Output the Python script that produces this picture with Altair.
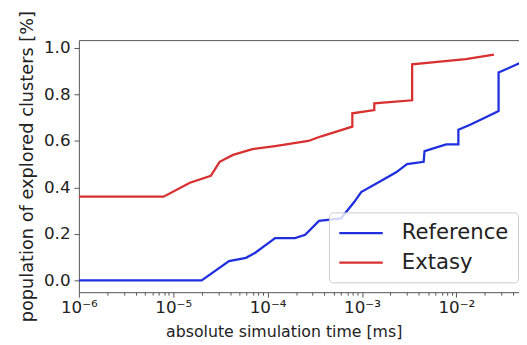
import altair as alt
import pandas as pd

# Reference series (step-like cumulative curve)
ref_x = [1e-6, 2e-5, 3.9e-5, 5.9e-5, 7.4e-5, 1.2e-4, 1.95e-4, 2.5e-4, 3.5e-4, 6.0e-4,
         8.3e-4, 9.8e-4, 1.6e-3, 2.3e-3, 3.0e-3, 4.5e-3, 4.6e-3, 7.8e-3, 1.05e-2, 1.05e-2,
         1.4e-2, 2.0e-2, 2.8e-2, 2.8e-2, 3.6e-2, 4.4e-2, 5.0e-2]
ref_y = [0.0, 0.0, 0.083, 0.097, 0.119, 0.182, 0.182, 0.196, 0.256, 0.267,
         0.338, 0.38, 0.429, 0.465, 0.50, 0.51, 0.556, 0.585, 0.585, 0.648,
         0.67, 0.70, 0.729, 0.895, 0.914, 0.93, 0.94]

# Extasy series
ext_x = [1e-6, 7.9e-6, 1.5e-5, 2.5e-5, 3.1e-5, 4.3e-5, 6.9e-5, 1.2e-4, 2.7e-4, 3.7e-4,
         7.9e-4, 7.9e-4, 1.35e-3, 1.35e-3, 3.4e-3, 3.4e-3, 6.3e-3, 1.26e-2, 2.5e-2]
ext_y = [0.36, 0.36, 0.42, 0.45, 0.51, 0.54, 0.565, 0.578, 0.60, 0.62,
         0.662, 0.719, 0.733, 0.762, 0.775, 0.93, 0.94, 0.952, 0.972]

series_names = ["Reference", "Extasy"]
series_colors = ["#1f2fe0", "#d83030"]

major_ticks = [1e-6, 1e-5, 1e-4, 1e-3, 1e-2]
minor_ticks = [m * 10 ** e for e in range(-6, -1) for m in range(2, 10) if m * 10 ** e < 0.046]
y_ticks = [0.0, 0.2, 0.4, 0.6, 0.8, 1.0]

rows = []
for i, (x, y) in enumerate(zip(ref_x, ref_y)):
    rows.append({"x": x, "y": y, "series": "Reference", "i": i})
for i, (x, y) in enumerate(zip(ext_x, ext_y)):
    rows.append({"x": x, "y": y, "series": "Extasy", "i": i})
df = pd.DataFrame(rows)

FONT = "DejaVu Sans"
xscale = alt.Scale(type="log", domain=[1e-6, 0.0461], nice=False)
yscale = alt.Scale(domain=[-0.051, 1.034], nice=False, zero=False)

label_expr = ("datum.value < 5e-6 ? '10⁻⁶' : datum.value < 5e-5 ? '10⁻⁵' : "
              "datum.value < 5e-4 ? '10⁻⁴' : datum.value < 5e-3 ? '10⁻³' : '10⁻²'")

lines = alt.Chart(df).mark_line(strokeWidth=2.3, clip=True).encode(
    x=alt.X("x:Q", scale=xscale,
            axis=alt.Axis(orient="bottom", values=major_ticks, labelExpr=label_expr,
                          title="absolute simulation time [ms]", grid=False,
                          tickSize=5, labelPadding=3, labelFontSize=17,
                          titleFontSize=16, titleFontWeight="normal",
                          titleX=208, titleAlign="center", titleAnchor="start",
                          titlePadding=8, domainColor="#555", tickColor="#555",
                          labelColor="#222", titleColor="#222", labelFlush=False)),
    y=alt.Y("y:Q", scale=yscale,
            axis=alt.Axis(values=y_ticks, format=".1f",
                          title="population of explored clusters [%]", grid=False,
                          tickSize=5, labelPadding=4, labelFontSize=17,
                          titleFontSize=18, titleFontWeight="normal",
                          titlePadding=7, domainColor="#555", tickColor="#555",
                          labelColor="#222", titleColor="#222")),
    color=alt.Color("series:N",
                    scale=alt.Scale(domain=series_names, range=series_colors),
                    legend=alt.Legend(title=None, orient="none", legendX=254, legendY=175,
                                      fillColor="rgba(255,255,255,0.8)", strokeColor="#cccccc",
                                      cornerRadius=4, padding=9, labelFontSize=21.5,
                                      labelColor="#222",
                                      symbolType="M-1,0L3.2,0",
                                      symbolSize=441, symbolStrokeWidth=2.5,
                                      labelOffset=41, rowPadding=7)),
    order="i:Q",
)

minor = alt.Chart(df).mark_line(opacity=0).encode(
    x=alt.X("x:Q", scale=xscale,
            axis=alt.Axis(orient="bottom", values=minor_ticks, labels=False, domain=False,
                          tickSize=3, title=None, grid=False, tickColor="#555")),
)

top = alt.Chart(df).mark_line(opacity=0).encode(
    x=alt.X("x:Q", scale=xscale,
            axis=alt.Axis(orient="top", labels=False, ticks=False, title=None,
                          grid=False, domainColor="#555")),
)

chart = alt.layer(lines, minor, top).resolve_axis(x="independent").properties(
    width=447, height=256,
    autosize=alt.AutoSizeParams(type="none"),
    padding={"left": 72, "top": 30, "right": 0, "bottom": 50},
).configure(font=FONT).configure_view(stroke=None)

chart.save("out.html", embed_options={"renderer": "svg", "actions": False})
